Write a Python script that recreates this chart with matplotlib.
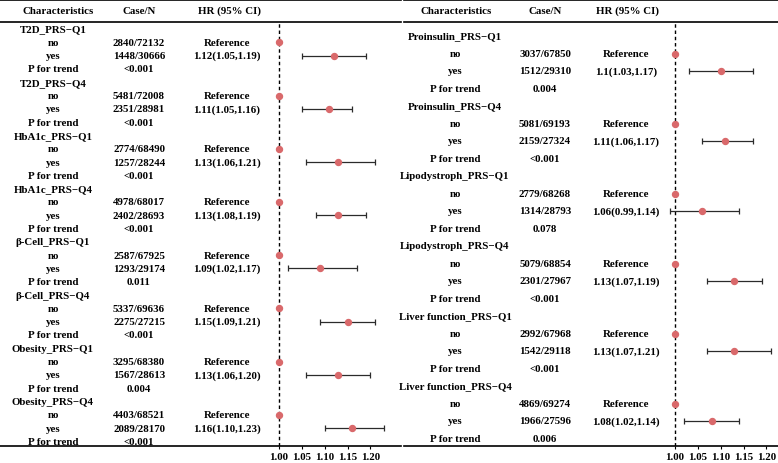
import matplotlib.pyplot as plt
from matplotlib.lines import Line2D
from matplotlib.transforms import blended_transform_factory

plt.rcParams['font.family'] = ['Liberation Serif', 'DejaVu Serif']
plt.rcParams['font.weight'] = 'bold'

# left table: subgroup, cases/total for no and yes, HR (95% CI) of yes, P for trend
left_groups = ["T2D_PRS\u2212Q1", "T2D_PRS\u2212Q4", "HbA1c_PRS\u2212Q1", "HbA1c_PRS\u2212Q4",
               "\u03b2-Cell_PRS\u2212Q1", "\u03b2-Cell_PRS\u2212Q4", "Obesity_PRS\u2212Q1", "Obesity_PRS\u2212Q4"]
left_no = ["2840/72132", "5481/72008", "2774/68490", "4978/68017",
           "2587/67925", "5337/69636", "3295/68380", "4403/68521"]
left_yes = ["1448/30666", "2351/28981", "1257/28244", "2402/28693",
            "1293/29174", "2275/27215", "1567/28613", "2089/28170"]
left_hr = [1.12, 1.11, 1.13, 1.13, 1.09, 1.15, 1.13, 1.16]
left_lo = [1.05, 1.05, 1.06, 1.08, 1.02, 1.09, 1.06, 1.10]
left_hi = [1.19, 1.16, 1.21, 1.19, 1.17, 1.21, 1.20, 1.23]
left_p = ["<0.001", "<0.001", "<0.001", "<0.001", "0.011", "<0.001", "0.004", "<0.001"]

# right table
right_groups = ["Proinsulin_PRS\u2212Q1", "Proinsulin_PRS\u2212Q4", "Lipodystroph_PRS\u2212Q1",
                "Lipodystroph_PRS\u2212Q4", "Liver function_PRS\u2212Q1", "Liver function_PRS\u2212Q4"]
right_no = ["3037/67850", "5081/69193", "2779/68268", "5079/68854", "2992/67968", "4869/69274"]
right_yes = ["1512/29310", "2159/27324", "1314/28793", "2301/27967", "1542/29118", "1966/27596"]
right_hr = [1.1, 1.11, 1.06, 1.13, 1.13, 1.08]
right_lo = [1.03, 1.06, 0.99, 1.07, 1.07, 1.02]
right_hi = [1.17, 1.17, 1.14, 1.19, 1.21, 1.14]
right_p = ["0.004", "<0.001", "0.078", "<0.001", "<0.001", "0.006"]

ticks = [1.00, 1.05, 1.10, 1.15, 1.20]

W, H = 778, 464
FS = 7.8
PX_PER_UNIT = 457.0
TOP, HEAD, BOTTOM = 1, 23, 447
dot_color = '#D9696B'

fig = plt.figure(figsize=(W / 100, H / 100), dpi=100)


def fx(x):
    return x / W


def fy(y):
    return 1 - y / H


def panel(groups, no_n, yes_n, hr, lo, hi, pvals, x0, x1, ref_px, ax_l, ax_r,
          first, step, c_head, c_rows, c_case, c_hr):
    ax = fig.add_axes([fx(ax_l), fy(BOTTOM), (ax_r - ax_l) / W, (BOTTOM - HEAD) / H])
    ax.set_xlim(1 - (ref_px - ax_l) / PX_PER_UNIT, 1 + (ax_r - ref_px) / PX_PER_UNIT)
    ax.set_ylim((BOTTOM - first) / step, (HEAD - first) / step)
    ax.patch.set_alpha(0)
    for s in ax.spines.values():
        s.set_visible(False)
    ax.set_yticks([])
    ax.set_xticks(ticks)
    ax.set_xticklabels([f"{t:.2f}" for t in ticks])
    ax.tick_params(axis='x', length=2.5, width=0.8, pad=1.5, labelsize=FS)
    ax.axvline(1.0, color='black', ls=(0, (2.5, 2)), lw=1)

    tr = blended_transform_factory(fig.transFigure, ax.transData)
    for i, g in enumerate(groups):
        r = i * 4
        ax.text(fx(c_rows), r, g, transform=tr, ha='center', va='center', fontsize=FS)
        ax.text(fx(c_rows), r + 1, "no", transform=tr, ha='center', va='center', fontsize=FS)
        ax.text(fx(c_rows), r + 2, "yes", transform=tr, ha='center', va='center', fontsize=FS)
        ax.text(fx(c_rows), r + 3, "P for trend", transform=tr, ha='center', va='center', fontsize=FS)
        ax.text(fx(c_case), r + 1, no_n[i], transform=tr, ha='center', va='center', fontsize=FS)
        ax.text(fx(c_case), r + 2, yes_n[i], transform=tr, ha='center', va='center', fontsize=FS)
        ax.text(fx(c_case), r + 3, pvals[i], transform=tr, ha='center', va='center', fontsize=FS)
        ax.text(fx(c_hr), r + 1, "Reference", transform=tr, ha='center', va='center', fontsize=FS)
        ax.text(fx(c_hr), r + 2, f"{hr[i]:g}({lo[i]:.2f},{hi[i]:.2f})", transform=tr,
                ha='center', va='center', fontsize=FS)
        ax.plot(1.0, r + 1, 'o', color=dot_color, ms=4.3, zorder=3, clip_on=False)
        ax.errorbar(hr[i], r + 2, xerr=[[hr[i] - lo[i]], [hi[i] - hr[i]]], fmt='none',
                    ecolor='#2b2b2b', elinewidth=0.9, capsize=2.5, capthick=0.9, zorder=2)
        ax.plot(hr[i], r + 2, 'o', color=dot_color, ms=4.3, zorder=3)

    for y in (TOP, HEAD, BOTTOM):
        fig.add_artist(Line2D([fx(x0), fx(x1)], [fy(y), fy(y)], color='black', lw=1.2))
    fig.text(fx(c_head), fy(11), "Characteristics", ha='center', va='center', fontsize=FS)
    fig.text(fx(c_case), fy(11), "Case/N", ha='center', va='center', fontsize=FS)
    fig.text(fx(c_hr + 2), fy(11), "HR (95% CI)", ha='center', va='center', fontsize=FS)


panel(left_groups, left_no, left_yes, left_hr, left_lo, left_hi, left_p,
      0, 401, 279, 262, 401, 30, 13.3, 58, 53, 139, 227)
panel(right_groups, right_no, right_yes, right_hr, right_lo, right_hi, right_p,
      404, 778, 675, 660, 778, 37, 17.5, 456, 455, 545, 626)

fig.savefig("out.png", dpi=100)
